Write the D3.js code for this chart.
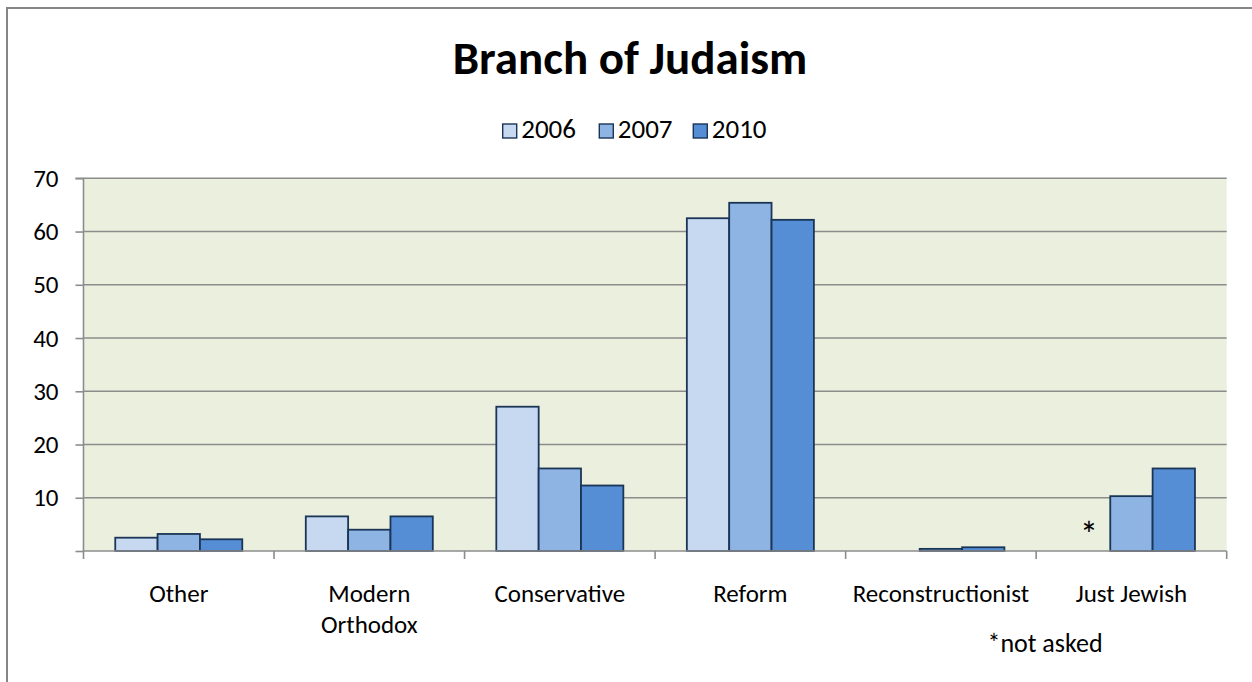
<!DOCTYPE html>
<html>
<head>
<meta charset="utf-8">
<script src="https://cdn.jsdelivr.net/npm/d3@7"></script>
<style>
  html, body { margin: 0; padding: 0; background: #fff; }
  svg { display: block; font-family: Carlito, Calibri, Lato, sans-serif; }
</style>
</head>
<body>
<svg id="chart" width="1252" height="682"></svg>
<script>
// Survey categories and percentages per year
const categories = ["Other", "Modern Orthodox", "Conservative", "Reform", "Reconstructionist", "Just Jewish"];
const categoryLines = [["Other"], ["Modern", "Orthodox"], ["Conservative"], ["Reform"], ["Reconstructionist"], ["Just Jewish"]];
const years = ["2006", "2007", "2010"];
const values2006 = [2.5, 6.5, 27.1, 62.5, 0, null];
const values2007 = [3.2, 4.0, 15.5, 65.4, 0.4, 10.3];
const values2010 = [2.2, 6.5, 12.3, 62.2, 0.7, 15.5];
const yTicks = [10, 20, 30, 40, 50, 60, 70];
const colors = ["#C6D9F1", "#8EB4E3", "#558ED5"];

const seriesValues = [values2006, values2007, values2010];
const FONT = "Carlito, Calibri, Lato, sans-serif";

const svg = d3.select("#chart");

// Outer chart frame
svg.append("rect")
  .attr("x", 7).attr("y", 8)
  .attr("width", 1260).attr("height", 700)
  .attr("fill", "#fff")
  .attr("stroke", "#868686")
  .attr("stroke-width", 2);

const plot = { left: 83.5, right: 1226.7, top: 178.3, bottom: 551 };

const x0 = d3.scaleBand().domain(categories).range([plot.left, plot.right]).padding(0);
const bw = x0.bandwidth();
const barW = bw / 4.5;
const x1 = d3.scaleBand().domain(years).range([0.75 * barW, 3.75 * barW]).padding(0);
const y = d3.scaleLinear().domain([0, 70]).range([plot.bottom, plot.top]);

// Plot background
svg.append("rect")
  .attr("x", plot.left).attr("y", plot.top)
  .attr("width", plot.right - plot.left).attr("height", plot.bottom - plot.top)
  .attr("fill", "#EBEFDE");

// Horizontal gridlines
svg.append("g")
  .selectAll("line")
  .data(yTicks)
  .join("line")
  .attr("x1", plot.left).attr("x2", plot.right)
  .attr("y1", d => y(d)).attr("y2", d => y(d))
  .attr("stroke", "#8C8C8C")
  .attr("stroke-width", 1.6);

// Bars
const groups = svg.append("g")
  .selectAll("g")
  .data(categories)
  .join("g")
  .attr("transform", d => `translate(${x0(d)},0)`);

groups.selectAll("rect")
  .data((c, i) => years.map((yr, j) => ({ yr, j, v: seriesValues[j][i] })).filter(d => d.v))
  .join("rect")
  .attr("x", d => x1(d.yr))
  .attr("width", x1.bandwidth())
  .attr("y", d => y(d.v))
  .attr("height", d => y(0) - y(d.v))
  .attr("fill", d => colors[d.j])
  .attr("stroke", "#1B3556")
  .attr("stroke-width", 1.8);

// Y axis
const yAxis = d3.axisLeft(y)
  .tickValues([0].concat(yTicks))
  .tickSize(8)
  .tickPadding(17)
  .tickFormat(d => d === 0 ? "" : d);
const gy = svg.append("g").attr("transform", `translate(${plot.left},0)`).call(yAxis);
gy.attr("font-family", FONT).attr("font-size", 25);
gy.select(".domain").attr("stroke", "#8C8C8C").attr("stroke-width", 1.6)
  .attr("d", `M-8,${plot.top}H0V${plot.bottom}`);
gy.selectAll(".tick line").attr("stroke", "#8C8C8C").attr("stroke-width", 1.6);
gy.selectAll(".tick text").attr("fill", "#000");

// X axis line and category boundary ticks
const boundaries = categories.map(c => x0(c)).concat([plot.right]);
svg.append("line")
  .attr("x1", plot.left).attr("x2", plot.right)
  .attr("y1", y(0)).attr("y2", y(0))
  .attr("stroke", "#8C8C8C").attr("stroke-width", 1.6);
svg.append("g").selectAll("line")
  .data(boundaries)
  .join("line")
  .attr("x1", d => d).attr("x2", d => d)
  .attr("y1", y(0)).attr("y2", y(0) + 8)
  .attr("stroke", "#8C8C8C").attr("stroke-width", 1.6);

// Category labels (one text element per line)
const labelRows = [];
categories.forEach((c, i) => {
  categoryLines[i].forEach((line, k) => labelRows.push({ c, line, k }));
});
svg.append("g").selectAll("text")
  .data(labelRows)
  .join("text")
  .attr("x", d => x0(d.c) + bw / 2)
  .attr("y", d => 602 + d.k * 31)
  .attr("text-anchor", "middle")
  .attr("font-size", 25)
  .attr("fill", "#000")
  .text(d => d.line);

// "Not asked" marker for Just Jewish 2006
svg.append("text")
  .attr("x", x0("Just Jewish") + x1("2006") + x1.bandwidth() / 2)
  .attr("y", y(0) - 4)
  .attr("text-anchor", "middle")
  .attr("font-size", 36)
  .text("*");

svg.append("text")
  .attr("x", 1045)
  .attr("y", 652)
  .attr("text-anchor", "middle")
  .attr("font-size", 26)
  .text("*not asked");

// Title
svg.append("text")
  .attr("x", 630)
  .attr("y", 74)
  .attr("text-anchor", "middle")
  .attr("font-size", 47)
  .attr("font-weight", "bold")
  .text("Branch of Judaism");

// Legend
const legendX = [502.7, 599.3, 693.3];
const legend = svg.append("g").selectAll("g")
  .data(years)
  .join("g")
  .attr("transform", (d, i) => `translate(${legendX[i]},124)`);
legend.append("rect")
  .attr("width", 14).attr("height", 14)
  .attr("fill", (d, i) => colors[i])
  .attr("stroke", "#1B3556").attr("stroke-width", 1.4);
legend.append("text")
  .attr("x", 18.5).attr("y", 14)
  .attr("font-size", 27)
  .text(d => d);
</script>
</body>
</html>
